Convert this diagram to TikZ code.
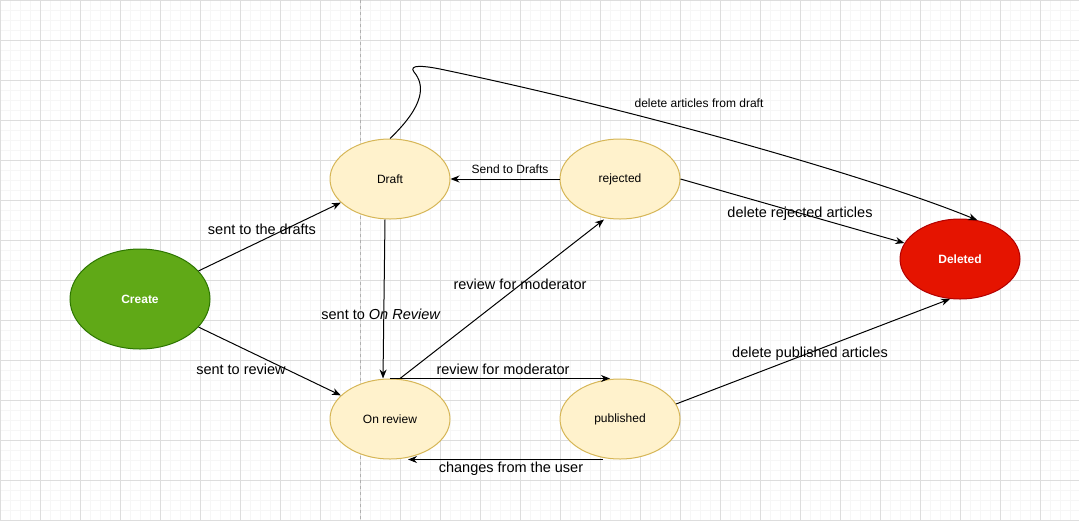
\documentclass[tikz,border=0pt]{standalone}
\usepackage{tikz}
\usetikzlibrary{arrows.meta,shapes.geometric}
\usepackage{fontspec}
\setmainfont{Liberation Sans}
\usepackage{color}
\definecolor{gridminor}{HTML}{F6F6F6}
\definecolor{gridmajor}{HTML}{DDDDDD}
\definecolor{guidegray}{HTML}{B0B0B0}
\definecolor{createfill}{HTML}{60A917}
\definecolor{createdraw}{HTML}{2D7600}
\definecolor{statefill}{HTML}{FFF2CC}
\definecolor{statedraw}{HTML}{D6B656}
\definecolor{deletedfill}{HTML}{E51400}
\definecolor{deleteddraw}{HTML}{B20000}

\begin{document}
\begin{tikzpicture}[x=1pt,y=-1pt]
\tikzstyle{every node}+=[inner sep=0pt]
\tikzstyle{state}=[ellipse,draw=statedraw,fill=statefill,line width=1pt,minimum width=120pt,minimum height=80pt,font=\fontsize{12}{14}\selectfont]
\tikzstyle{lbl}=[font=\fontsize{14.5}{17}\selectfont]
\tikzstyle{smalllbl}=[font=\fontsize{12}{14}\selectfont]
\tikzstyle{arr}=[line width=1pt,-{Stealth[length=9pt,width=7pt]}]
\useasboundingbox (0,0) rectangle (1079,520);
\fill [white] (0,0) rectangle (1079,520);
% grid
\foreach \x in {0,10,...,1070} \draw [gridminor,line width=1pt] (\x,0) -- (\x,520);
\foreach \y in {0,10,...,520} \draw [gridminor,line width=1pt] (0,\y) -- (1079,\y);
\foreach \x in {0,40,...,1070} \draw [gridmajor,line width=1pt] (\x,0) -- (\x,520);
\foreach \y in {0,40,...,520} \draw [gridmajor,line width=1pt] (0,\y) -- (1079,\y);
\draw [guidegray,line width=1pt,dash pattern=on 3pt off 3pt] (360,0) -- (360,520);
% states
\node [ellipse,draw=createdraw,fill=createfill,line width=1pt,minimum width=140pt,minimum height=100pt,text=white,font=\bfseries\fontsize{12}{14}\selectfont] (create) at (140,299) {Create};
\node [state] (draft) at (390,179) {Draft};
\node [state] (rejected) at (620,179) {rejected};
\node [state] (onreview) at (390,419) {On review};
\node [state] (published) at (620,419) {published};
\node [ellipse,draw=deleteddraw,fill=deletedfill,line width=1pt,minimum width=120pt,minimum height=80pt,text=white,font=\bfseries\fontsize{12}{14}\selectfont] (deleted) at (960,259) {Deleted};
% transitions
\draw [arr] (create) -- (draft);
\node [lbl] (ldrafts) at (262,229) {sent to the drafts};
\draw [arr] (create) -- (onreview);
\node [lbl] (lreview) at (241,369) {sent to review};
\draw [arr] ([xshift=-5pt]draft.south) -- ([xshift=-7pt]onreview.north);
\node [lbl] (lonreview) at (381,314) {sent to \textit{On Review}};
\draw [arr] (rejected) -- (draft);
\node [smalllbl] (lsend) at (510,169) {Send to Drafts};
\draw [arr] ([xshift=10pt]onreview.north) -- ([xshift=-16pt]rejected.south);
\node [lbl] (lmodup) at (520,284) {review for moderator};
\draw [arr] (onreview.north) -- ([xshift=-10pt]published.north);
\node [lbl] (lmoddown) at (503,369) {review for moderator};
\draw [arr] ([xshift=-17pt]published.south) -- ([xshift=18pt]onreview.south);
\node [lbl] (lchanges) at (511,469) {changes from the user};
\draw [arr] (rejected.east) -- (deleted.164);
\node [lbl] (lrejected) at (800,214) {delete rejected articles};
\draw [arr] (published.15) -- (deleted.256);
\node [lbl] (lpublished) at (810,354) {delete published articles};
\draw [arr] (draft.north) .. controls (425,105) and (425,85) .. (414,72) .. controls (408,64) and (425,66) .. (440,69) .. controls (650,113) and (880,180) .. (deleted.66);
\node [smalllbl] (lfromdraft) at (699,103) {delete articles from draft};
\end{tikzpicture}
\end{document}
